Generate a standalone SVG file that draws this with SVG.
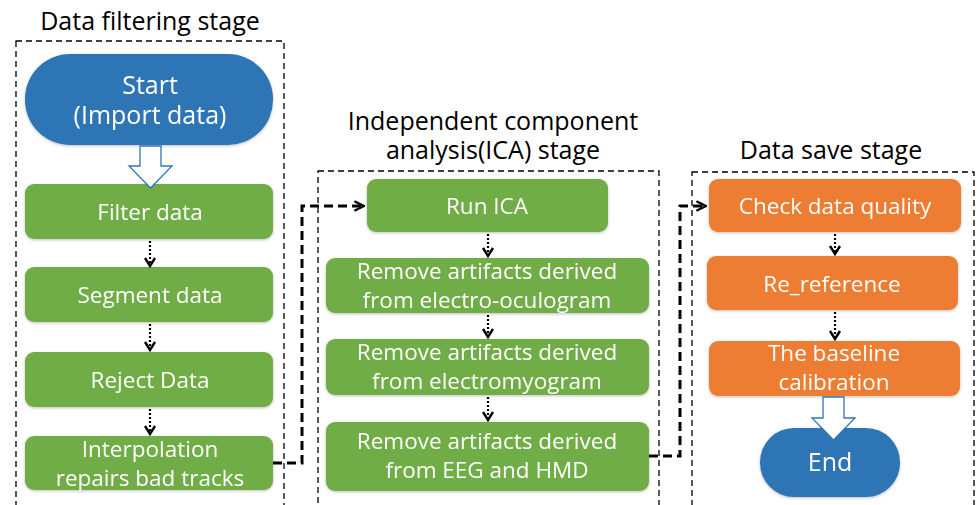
<svg xmlns="http://www.w3.org/2000/svg" width="977" height="505" viewBox="0 0 977 505">
  <defs>
    <style>
      .stage { fill: none; stroke: #000; stroke-width: 1.3; stroke-dasharray: 6 4; }
      .title { font-family: "Open Sans", "Noto Sans", sans-serif; font-size: 25px; fill: #000; text-anchor: middle; }
      .lbl { font-family: "Open Sans", "Noto Sans", sans-serif; font-size: 22.5px; fill: #fff; text-anchor: middle; }
      .big { font-size: 25px; }
      .green { fill: #70AD47; }
      .orange { fill: #ED7D31; }
      .blue { fill: #2E75B6; }
      .dot { fill: none; stroke: #000; stroke-width: 2.2; stroke-dasharray: 2 2; }
      .chev { fill: none; stroke: #000; stroke-width: 2.4; }
      .link { fill: none; stroke: #000; stroke-width: 3; stroke-dasharray: 9 5; }
      .hollow { fill: #fff; stroke: #2E75B6; stroke-width: 1.3; }
    </style>
    <marker id="head" viewBox="0 0 10 10" refX="9" refY="5" markerWidth="4" markerHeight="4" orient="auto" markerUnits="strokeWidth">
      <path d="M1,1 L9,5 L1,9" fill="none" stroke="#000" stroke-width="2"/>
    </marker>
    <filter id="soft" x="-10%" y="-10%" width="120%" height="130%">
      <feDropShadow dx="0" dy="1" stdDeviation="1.5" flood-color="#000" flood-opacity="0.25"/>
    </filter>
  </defs>

  <!-- stage frames and titles -->
  <g id="stage-filtering">
    <rect class="stage" x="16" y="41" width="268" height="480"/>
    <text class="title" x="150" y="30">Data filtering stage</text>
  </g>
  <g id="stage-ica">
    <rect class="stage" x="318" y="171" width="341" height="350"/>
    <text class="title" x="493" y="130">Independent component</text>
    <text class="title" x="493" y="159">analysis(ICA) stage</text>
  </g>
  <g id="stage-save">
    <rect class="stage" x="692" y="172" width="282" height="350"/>
    <text class="title" x="831" y="159">Data save stage</text>
  </g>

  <!-- data filtering nodes -->
  <g id="start" filter="url(#soft)">
    <rect class="blue" x="25" y="54" width="248" height="91" rx="45"/>
    <text class="lbl big" x="150" y="94">Start</text>
    <text class="lbl big" x="150" y="124">(Import data)</text>
  </g>
  <g id="filter-data" filter="url(#soft)">
    <rect class="green" x="25" y="184" width="248" height="55" rx="9"/>
    <text class="lbl" x="150" y="220">Filter data</text>
  </g>
  <g id="segment-data" filter="url(#soft)">
    <rect class="green" x="25" y="267" width="248" height="55" rx="9"/>
    <text class="lbl" x="150" y="303">Segment data</text>
  </g>
  <g id="reject-data" filter="url(#soft)">
    <rect class="green" x="25" y="352" width="248" height="55" rx="9"/>
    <text class="lbl" x="150" y="388">Reject Data</text>
  </g>
  <g id="interpolation" filter="url(#soft)">
    <rect class="green" x="25" y="436" width="248" height="54" rx="9"/>
    <text class="lbl" x="150" y="457">Interpolation</text>
    <text class="lbl" x="150" y="486">repairs bad tracks</text>
  </g>

  <!-- ICA nodes -->
  <g id="run-ica" filter="url(#soft)">
    <rect class="green" x="367" y="179" width="241" height="53" rx="9"/>
    <text class="lbl" x="487" y="214">Run ICA</text>
  </g>
  <g id="remove-eog" filter="url(#soft)">
    <rect class="green" x="326" y="258" width="323" height="55" rx="9"/>
    <text class="lbl" x="487" y="279">Remove artifacts derived</text>
    <text class="lbl" x="487" y="308">from electro-oculogram</text>
  </g>
  <g id="remove-emg" filter="url(#soft)">
    <rect class="green" x="326" y="339" width="323" height="56" rx="9"/>
    <text class="lbl" x="487" y="360">Remove artifacts derived</text>
    <text class="lbl" x="487" y="389">from electromyogram</text>
  </g>
  <g id="remove-eeg-hmd" filter="url(#soft)">
    <rect class="green" x="326" y="422" width="323" height="69" rx="9"/>
    <text class="lbl" x="487" y="449">Remove artifacts derived</text>
    <text class="lbl" x="487" y="478">from EEG and HMD</text>
  </g>

  <!-- data save nodes -->
  <g id="check-quality" filter="url(#soft)">
    <rect class="orange" x="709" y="179" width="252" height="53" rx="9"/>
    <text class="lbl" x="835" y="214">Check data quality</text>
  </g>
  <g id="re-reference" filter="url(#soft)">
    <rect class="orange" x="707" y="256" width="251" height="54" rx="9"/>
    <text class="lbl" x="832" y="292">Re_reference</text>
  </g>
  <g id="baseline" filter="url(#soft)">
    <rect class="orange" x="709" y="341" width="251" height="55" rx="9"/>
    <text class="lbl" x="834" y="361">The baseline</text>
    <text class="lbl" x="834" y="390">calibration</text>
  </g>
  <g id="end" filter="url(#soft)">
    <rect class="blue" x="760" y="428" width="140" height="69" rx="34"/>
    <text class="lbl big" x="830" y="471">End</text>
  </g>

  <!-- connectors -->
  <g id="connectors">
    <!-- block arrows -->
    <path class="hollow" d="M140,146 L161,146 L161,166 L172,166 L150.5,188 L129,166 L140,166 Z"/>
    <path class="hollow" d="M823,397 L844,397 L844,418 L855,418 L833.5,440 L812,418 L823,418 Z"/>

    <!-- dotted flow arrows -->
    <path class="dot" d="M150,241 V264"/>
    <path class="chev" d="M145,258 L150,266 L155,258"/>
    <path class="dot" d="M150,324 V349"/>
    <path class="chev" d="M145,342 L150,350 L155,342"/>
    <path class="dot" d="M150,409 V433"/>
    <path class="chev" d="M145,426 L150,434 L155,426"/>

    <path class="dot" d="M488,234 V255"/>
    <path class="chev" d="M483,248 L488,256 L493,248"/>
    <path class="dot" d="M488,315 V336"/>
    <path class="chev" d="M483,329 L488,337 L493,329"/>
    <path class="dot" d="M488,397 V419"/>
    <path class="chev" d="M483,412 L488,420 L493,412"/>

    <path class="dot" d="M835,234 V253"/>
    <path class="chev" d="M830,246 L835,254 L840,246"/>
    <path class="dot" d="M835,312 V338"/>
    <path class="chev" d="M830,331 L835,339 L840,331"/>

    <!-- stage links -->
    <path class="link" d="M273,463 H302 V206 H364" marker-end="url(#head)"/>
    <path class="link" d="M649,456 H680 V206 H706" marker-end="url(#head)"/>
  </g>
</svg>
